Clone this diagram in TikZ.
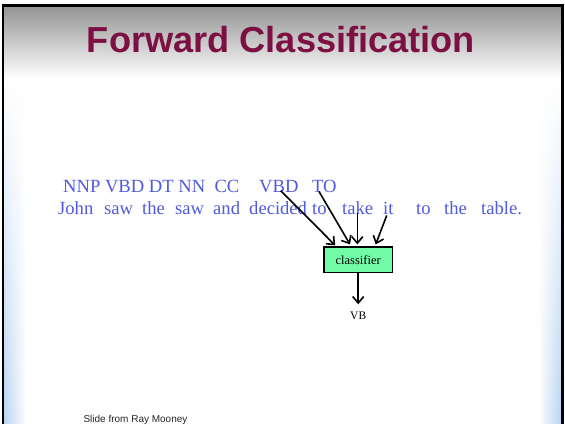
\documentclass[tikz,border=0pt]{standalone}
\usepackage{fontspec}
\setmainfont{Liberation Serif}
\setsansfont{Liberation Sans}
\usetikzlibrary{arrows.meta,calc,fadings}
\definecolor{titlecol}{RGB}{125,16,66}
\definecolor{wordblue}{RGB}{80,90,225}
\definecolor{boxgreen}{RGB}{115,252,168}
\definecolor{edgeblue}{RGB}{185,212,240}
\begin{document}
\begin{tikzpicture}[x=1pt,y=-1pt,
  word/.style={anchor=base west, inner sep=0pt, text=wordblue, font=\fontsize{18.6}{20}\selectfont},
  arr/.style={line width=1.6pt, -{Straight Barb[length=6.5pt,width=11pt,line width=1.6pt]}},
  clfbox/.style={draw=black, line width=1.4pt, fill=boxgreen, minimum width=68.5pt, minimum height=25.5pt, inner sep=0pt, font=\fontsize{12.5}{14}\selectfont}]
\useasboundingbox (0,0) rectangle (565,424);
\fill[white] (0,0) rectangle (565,424);
\shade[top color=black!43, bottom color=white] (3,5) rectangle (562,78);
\shade[left color=edgeblue, right color=white, path fading=north] (4,80) rectangle (26,424);
\shade[left color=white, right color=edgeblue, path fading=north] (538,80) rectangle (561,424);
\draw[line width=2.5pt] (2.8,424) -- (2.8,5.3) -- (562.5,5.3) -- (562.5,424);
\node[font=\sffamily\bfseries\fontsize{36.2}{40}\selectfont, text=titlecol, anchor=base, inner sep=0pt] (title) at (281,52) {Forward Classification};
% tag line
\node[word] (tags) at (63,192) {NNP VBD DT NN\ \ CC};
\node[word] (vbd) at (259,192) {VBD};
\node[word] (to1) at (312,192) {TO};
% sentence
\node[word] (w1) at (58,214) {John};
\node[word] (w2) at (104,214) {saw};
\node[word] (w3) at (142,214) {the};
\node[word] (w4) at (175,214) {saw};
\node[word] (w5) at (213,214) {and};
\node[word] (w6) at (249,214) {decided};
\node[word] (w7) at (312,214) {to};
\node[word] (w8) at (342,214) {take};
\node[word] (w9) at (383,214) {it};
\node[word] (w10) at (416,214) {to};
\node[word] (w11) at (444,214) {the};
\node[word] (w12) at (481,214) {table.};
% classifier
\node[clfbox] (clf) at (358.2,259.8) {classifier};
\node[anchor=base, inner sep=0pt, font=\fontsize{11.5}{12}\selectfont] (vb) at (358.2,319) {VB};
\coordinate (s1) at (280.7,190.7);
\coordinate (s2) at (319,191.5);
\coordinate (s3) at (357.3,213);
\coordinate (s4) at (386.7,215.5);
\draw[arr] (s1) -- ($(clf.north)+(-23,-1)$);
\draw[arr] (s2) -- ($(clf.north)+(-8.2,-2)$);
\draw[arr] (s3) -- ($(clf.north)+(-0.9,-2)$);
\draw[arr] (s4) -- ($(clf.north)+(17.5,-2)$);
\draw[arr] (clf.south) -- ($(vb.north)+(0,-7)$);
\node[anchor=base west, inner sep=0pt, font=\sffamily\fontsize{10}{12}\selectfont, text=black!85] (foot) at (83.3,422.5) {Slide from Ray Mooney};
\end{tikzpicture}
\end{document}
